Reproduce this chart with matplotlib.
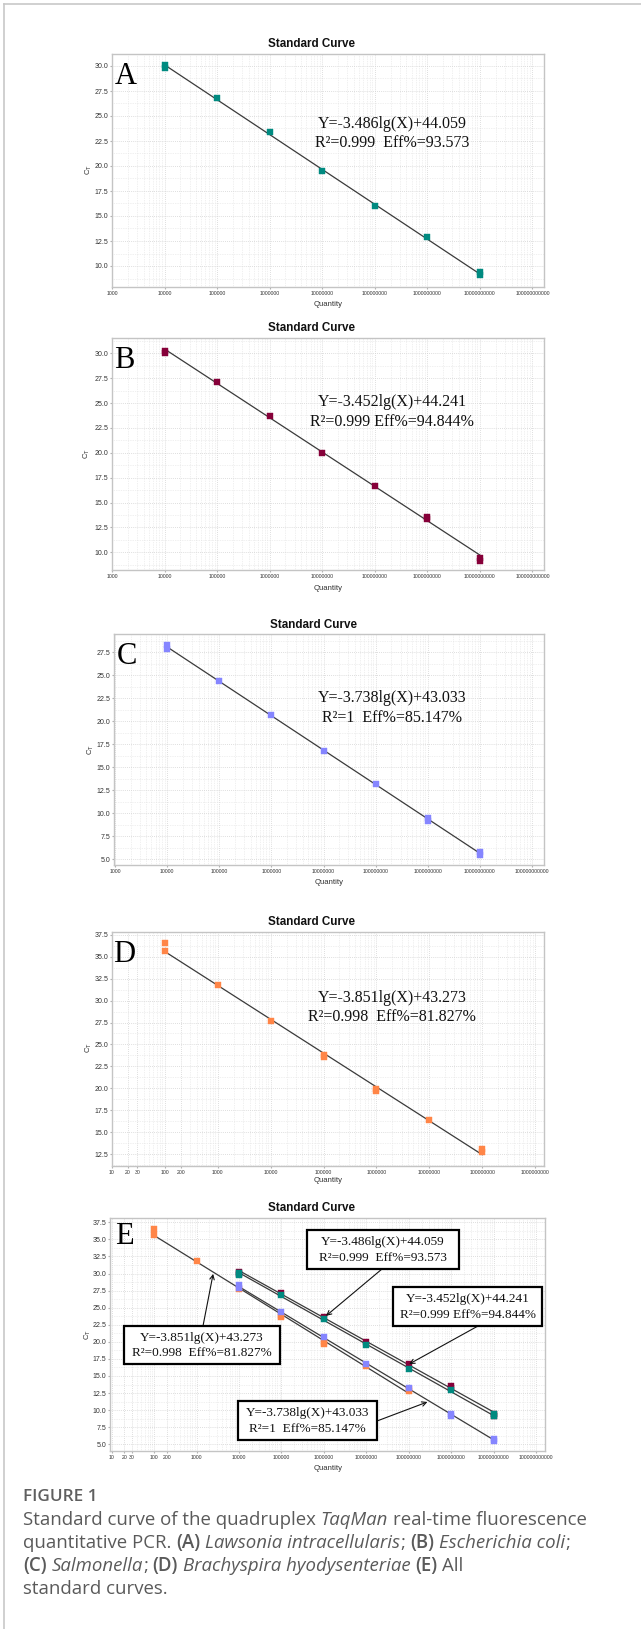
import numpy as np
import matplotlib
matplotlib.use("Agg")
import matplotlib.pyplot as plt
from matplotlib.ticker import FixedLocator, FixedFormatter, NullFormatter
from matplotlib.patches import Rectangle
from matplotlib.lines import Line2D

W, H = 641, 1629
fig = plt.figure(figsize=(W / 100, H / 100), dpi=100)

# ---------------- data ----------------
quant_A = [1e4, 1e4, 1e5, 1e6, 1e7, 1e8, 1e9, 1e10, 1e10]
ct_A = [30.1, 29.8, 26.8, 23.4, 19.5, 16.0, 12.9, 9.4, 9.1]
quant_B = [1e4, 1e4, 1e5, 1e6, 1e7, 1e8, 1e9, 1e9, 1e10, 1e10]
ct_B = [30.25, 30.0, 27.1, 23.7, 20.0, 16.7, 13.55, 13.3, 9.45, 9.15]
quant_C = [1e4, 1e4, 1e5, 1e6, 1e7, 1e8, 1e9, 1e9, 1e10, 1e10]
ct_C = [28.25, 27.9, 24.4, 20.7, 16.8, 13.2, 9.45, 9.2, 5.8, 5.5]
quant_D = [1e2, 1e2, 1e3, 1e4, 1e5, 1e5, 1e6, 1e6, 1e7, 1e8, 1e8]
ct_D = [36.5, 35.6, 31.8, 27.7, 23.85, 23.6, 19.95, 19.7, 16.4, 13.15, 12.8]

slopes = {"A": -3.486, "B": -3.452, "C": -3.738, "D": -3.851}
intercepts = {"A": 44.059, "B": 44.241, "C": 43.033, "D": 43.273}
eq_line1 = {"A": "Y=-3.486lg(X)+44.059", "B": "Y=-3.452lg(X)+44.241",
            "C": "Y=-3.738lg(X)+43.033", "D": "Y=-3.851lg(X)+43.273"}
eq_line2 = {"A": "R\u00b2=0.999  Eff%=93.573", "B": "R\u00b2=0.999 Eff%=94.844%",
            "C": "R\u00b2=1  Eff%=85.147%", "D": "R\u00b2=0.998  Eff%=81.827%"}
colors = {"A": "#008a80", "B": "#860039", "C": "#8585ff", "D": "#ff8547"}
series = {"A": (quant_A, ct_A), "B": (quant_B, ct_B),
          "C": (quant_C, ct_C), "D": (quant_D, ct_D)}

ticks_1e3 = [10.0 ** k for k in range(3, 12)]
ticks_10 = [10, 20, 30, 100, 200] + [10.0 ** k for k in range(3, 10)]
ticks_10E = [10, 20, 30, 100, 200] + [10.0 ** k for k in range(3, 12)]

title_text = "Standard Curve"
xlabel_text = "Quantity"
ylabel_text = r"C$_\mathrm{T}$"

SANS = "Liberation Sans"
SERIF = "Liberation Serif"


def fx(x):
    return x / W


def fy(y):
    return 1 - y / H


def make_axes(l, r, t, b, xlim, ylim, yticks, xticks):
    ax = fig.add_axes([fx(l), fy(b), (r - l) / W, (b - t) / H])
    ax.set_xscale("log")
    ax.set_xlim(xlim)
    ax.set_ylim(ylim)
    ax.xaxis.set_major_locator(FixedLocator(xticks))
    ax.xaxis.set_major_formatter(FixedFormatter([str(int(v)) for v in xticks]))
    lo, hi = int(np.floor(np.log10(xlim[0]))), int(np.ceil(np.log10(xlim[1])))
    minors = [m * 10.0 ** k for k in range(lo, hi + 1) for m in range(2, 10)]
    ax.xaxis.set_minor_locator(FixedLocator(minors))
    ax.xaxis.set_minor_formatter(NullFormatter())
    ax.yaxis.set_major_locator(FixedLocator(yticks))
    ax.yaxis.set_major_formatter(FixedFormatter([f"{v:.1f}" for v in yticks]))
    ymin = [v + 1.25 for v in yticks] + [yticks[0] - 1.25]
    ax.yaxis.set_minor_locator(FixedLocator(ymin))
    ax.grid(True, which="major", color="#d4d4d4", linestyle=(0, (1, 1.5)), lw=0.6)
    ax.grid(True, which="minor", color="#e2e2e2", linestyle=(0, (1, 1.5)), lw=0.5)
    for s in ax.spines.values():
        s.set_color("#c4c4c4")
        s.set_linewidth(1.0)
    ax.tick_params(axis="x", which="major", labelsize=3.7, length=1.5, pad=1.2,
                   color="#b0b0b0", labelcolor="#333333")
    ax.tick_params(axis="y", which="major", labelsize=5, length=1.5, pad=1.0,
                   color="#b0b0b0", labelcolor="#333333")
    ax.tick_params(which="minor", length=0)
    for lab in ax.get_xticklabels() + ax.get_yticklabels():
        lab.set_family(SANS)
    ax.set_axisbelow(True)
    return ax


def draw_series(ax, key, ms=5.0):
    q, c = series[key]
    lq = np.log10(q)
    xs = np.array([min(lq), max(lq)])
    ax.plot(10 ** xs, slopes[key] * xs + intercepts[key], color="#3a3a3a",
            lw=0.9, zorder=2)
    ax.plot(q, c, "s", color=colors[key], ms=ms, mec=colors[key], mew=0.3,
            zorder=3, linestyle="none")


def labels(title_xy, qx_xy, ct_xy):
    fig.text(fx(title_xy[0]), fy(title_xy[1]), title_text, ha="center",
             va="center", fontsize=8.4, fontweight="bold", family=SANS,
             color="#111111")
    fig.text(fx(qx_xy[0]), fy(qx_xy[1]), xlabel_text, ha="center", va="center",
             fontsize=5.6, family=SANS, color="#333333")
    fig.text(fx(ct_xy[0]), fy(ct_xy[1]), ylabel_text, ha="center", va="center",
             fontsize=5.6, family=SANS, color="#333333", rotation=90)


# ---------------- single panels ----------------
panels = [
    ("A", (112, 544, 54, 287), (1e3, 10 ** 11.22), (7.9, 31.2),
     np.arange(10, 30.01, 2.5), ticks_1e3, (312, 44), (328, 304), (89, 170),
     (126, 77), (392, 124, 143)),
    ("B", (112, 544, 338, 570), (1e3, 10 ** 11.22), (8.22, 31.54),
     np.arange(10, 30.01, 2.5), ticks_1e3, (312, 328), (328, 588), (87, 454),
     (124, 360), (392, 402, 422)),
    ("C", (114, 544, 634, 865), (10 ** 2.98, 10 ** 11.23), (4.38, 29.49),
     np.arange(5, 27.51, 2.5), ticks_1e3, (313, 625), (329, 883), (91, 750),
     (127, 656), (392, 698, 718)),
    ("D", (112, 544, 932, 1166), (10, 10 ** 9.17), (11.17, 37.8),
     np.arange(12.5, 37.51, 2.5), ticks_10, (312, 922), (328, 1180), (89, 1048),
     (124, 955), (392, 998, 1017)),
]

for key, rect, xlim, ylim, yt, xt, tpos, qpos, cpos, lpos, epos in panels:
    ax = make_axes(*rect, xlim, ylim, list(yt), xt)
    draw_series(ax, key)
    labels(tpos, qpos, cpos)
    fig.text(fx(lpos[0]), fy(lpos[1]), key, ha="center", va="center",
             fontsize=22, family=SERIF, color="black")
    fig.text(fx(epos[0]), fy(epos[1]), eq_line1[key], ha="center", va="center",
             fontsize=11.5, family=SERIF, color="#111111")
    fig.text(fx(epos[0]), fy(epos[2]), eq_line2[key], ha="center", va="center",
             fontsize=11.5, family=SERIF, color="#111111")

# ---------------- panel E ----------------
axE = make_axes(110, 545, 1218, 1451, (10 ** 0.96, 10 ** 11.21), (4.02, 38.13),
                list(np.arange(5, 37.51, 2.5)), ticks_10E)
for key in ["D", "C", "B", "A"]:
    draw_series(axE, key, ms=4.8)
labels((312, 1208), (328, 1468), (88, 1335))
fig.text(fx(124), fy(1237), "E", ha="center", va="center", fontsize=22,
         family=SERIF, color="black")

# boxes: key, (x0, y0, x1, y1), arrow start px, arrow tip (log10 x, ct)
boxes = [
    ("A", (307, 1230, 459, 1269), (382, 1269), (6.05, 23.8)),
    ("B", (393, 1287, 542, 1326), (478, 1326), (8.01, 16.75)),
    ("D", (124, 1326, 280, 1364), (203, 1326), (3.39, 29.95)),
    ("C", (238, 1401, 377, 1440), (377, 1421), (8.44, 11.2)),
]
for key, (x0, y0, x1, y1), (sx, sy), (tx, ty) in boxes:
    axE.annotate("", xy=(10 ** tx, ty), xycoords="data",
                 xytext=(fx(sx), fy(sy)), textcoords="figure fraction",
                 arrowprops=dict(arrowstyle="->", color="#111111", lw=0.8,
                                 shrinkA=0, shrinkB=0, mutation_scale=8),
                 zorder=4)
    fig.add_artist(Rectangle((fx(x0), fy(y1)), (x1 - x0) / W, (y1 - y0) / H,
                             transform=fig.transFigure, facecolor="white",
                             edgecolor="black", lw=1.6, zorder=5))
    cx = (x0 + x1) / 2
    h = y1 - y0
    fig.text(fx(cx), fy(y0 + h * 0.31), eq_line1[key], ha="center", va="center",
             fontsize=9.5, family=SERIF, color="#111111", zorder=6)
    fig.text(fx(cx), fy(y0 + h * 0.72), eq_line2[key], ha="center", va="center",
             fontsize=9.5, family=SERIF, color="#111111", zorder=6)

# ---------------- frame ----------------
fig.add_artist(Line2D([fx(4), fx(641)], [fy(4), fy(4)], transform=fig.transFigure,
                      color="#c8c8c8", lw=1.2))
fig.add_artist(Line2D([fx(4), fx(4)], [fy(4), fy(1629)], transform=fig.transFigure,
                      color="#c8c8c8", lw=1.2))

# ---------------- caption ----------------
CAP = "Open Sans"
renderer = fig.canvas.get_renderer()


def style_kw(style, size):
    kw = dict(family=CAP, fontsize=size, color="#5a5a5a")
    if style == "i":
        kw["style"] = "italic"
    if style == "b":
        kw["weight"] = "semibold"
    return kw


def text_width(s, style, size):
    t1 = fig.text(0, 0, "|" + s + "|", **style_kw(style, size))
    t2 = fig.text(0, 0, "||", **style_kw(style, size))
    w = t1.get_window_extent(renderer).width - t2.get_window_extent(renderer).width
    t1.remove()
    t2.remove()
    return w


def rich_line(x_px, y_px, runs, size):
    x = x_px
    for s, style in runs:
        if s.strip():
            lead = len(s) - len(s.lstrip())
            if lead:
                x += text_width(s[:lead], style, size)
            fig.text(fx(x), fy(y_px), s.strip(), ha="left", va="center",
                     **style_kw(style, size))
            x += text_width(s.lstrip(), style, size)
        else:
            x += text_width(s, style, size)


fig.text(fx(23), fy(1497), "FIGURE 1", ha="left", va="center", family=CAP,
         fontsize=12.3, weight="semibold", color="#5f5f5f")
cap_size = 13.45
cap_lines = [
    [("Standard curve of the quadruplex ", "r"), ("TaqMan", "i"),
     (" real-time fluorescence", "r")],
    [("quantitative PCR. ", "r"), ("(A)", "b"), (" ", "r"),
     ("Lawsonia intracellularis", "i"), ("; ", "r"), ("(B)", "b"), (" ", "r"),
     ("Escherichia coli", "i"), (";", "r")],
    [("(C)", "b"), (" ", "r"), ("Salmonella", "i"), ("; ", "r"), ("(D)", "b"),
     (" ", "r"), ("Brachyspira hyodysenteriae", "i"), (" ", "r"), ("(E)", "b"),
     (" All", "r")],
    [("standard curves.", "r")],
]
cap_y = [1520, 1543, 1566, 1589]
for runs, y in zip(cap_lines, cap_y):
    rich_line(23, y, runs, cap_size)

fig.savefig("out.png", dpi=100)
